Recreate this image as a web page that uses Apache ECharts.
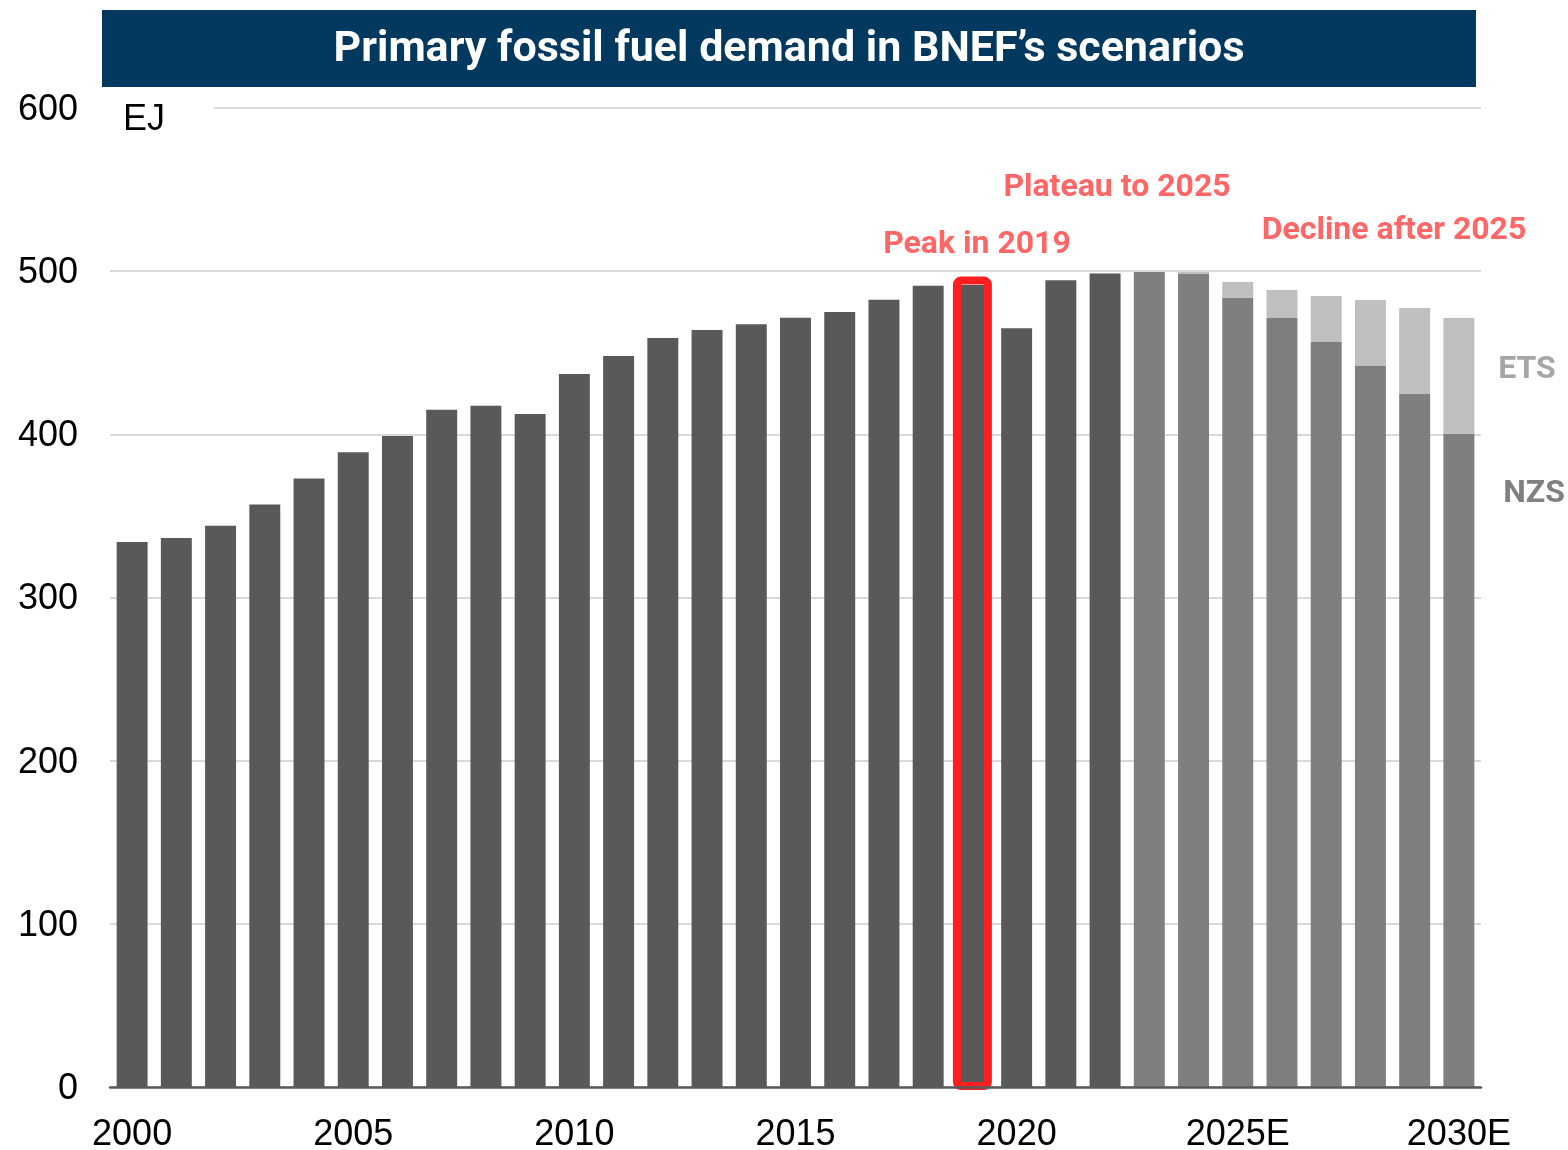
<!DOCTYPE html>
<html>
<head>
<meta charset="utf-8">
<script src="https://cdn.jsdelivr.net/npm/echarts@6/dist/echarts.min.js"></script>
<style>
html,body{margin:0;padding:0;background:#fff;}
#chart{width:1568px;height:1150px;}
</style>
</head>
<body>
<div id="chart"></div>
<script>
// ---- Data ----
const categories = ['2000','2001','2002','2003','2004','2005','2006','2007','2008','2009',
  '2010','2011','2012','2013','2014','2015','2016','2017','2018','2019',
  '2020','2021','2022','2023E','2024E','2025E','2026E','2027E','2028E','2029E','2030E'];
// Historical demand (EJ), 2000-2022
const historical = [334, 336.5, 344, 357, 373, 389, 399, 415, 417.5, 412.5,
  437, 448, 459, 464, 467.5, 471.5, 475, 482.5, 491, 491.5,
  465, 494.5, 498.5];
// Net Zero Scenario (EJ), 2023E-2030E
const nzs = [499.5, 498.3, 483.6, 471.3, 456.6, 441.9, 424.7, 400.3];
// Economic Transition Scenario (EJ), 2023E-2030E
const ets = [499.5, 499.5, 493.4, 488.5, 484.8, 482.3, 477.4, 471.3];
const yTicks = [0, 100, 200, 300, 400, 500, 600];
const peakYear = '2019';

// ---- Build series data ----
const nHist = historical.length;
const histData = categories.map((c, i) => i < nHist ? historical[i] : null);
const nzsData = categories.map((c, i) => i >= nHist ? nzs[i - nHist] : null);
const etsExtra = categories.map((c, i) => i >= nHist ? +(ets[i - nHist] - nzs[i - nHist]).toFixed(2) : null);
const peakIdx = categories.indexOf(peakYear);

const chart = echarts.init(document.getElementById('chart'), null, {renderer: 'canvas'});
const axisFont = '"Liberation Sans", Arial, sans-serif';
const boldFont = 'Roboto, "Noto Sans", sans-serif';

chart.setOption({
  animation: false,
  backgroundColor: '#fff',
  grid: {left: 110, right: 87, top: 108, bottom: 63, containLabel: false, outerBoundsMode: 'none'},
  xAxis: {
    type: 'category',
    data: categories,
    z: 5,
    axisLine: {show: true, lineStyle: {color: '#595959', width: 2.5}},
    axisTick: {show: false},
    axisLabel: {
      interval: 4, margin: 30, color: '#000',
      fontFamily: axisFont, fontSize: 36
    }
  },
  yAxis: {
    type: 'value',
    min: yTicks[0], max: yTicks[yTicks.length - 1], interval: 100,
    axisLine: {show: false},
    axisTick: {show: false},
    axisLabel: {margin: 32, color: '#000', fontFamily: axisFont, fontSize: 36,
      verticalAlign: 'top', lineHeight: 4},
    splitLine: {lineStyle: {color: '#D9D9D9', width: 2}}
  },
  series: [
    {name: 'Historical', type: 'bar', stack: 'total', data: histData, barWidth: '70%',
      itemStyle: {color: '#595959'}},
    {name: 'NZS', type: 'bar', stack: 'total', data: nzsData, barWidth: '70%',
      itemStyle: {color: '#7F7F7F'}},
    {name: 'ETS', type: 'bar', stack: 'total', data: etsExtra, barWidth: '70%',
      itemStyle: {color: '#BFBFBF'}},
    {
      name: 'Peak', type: 'custom', z: 4,
      data: [[peakIdx, historical[peakIdx]]],
      renderItem: function (params, api) {
        const base = api.coord([api.value(0), 0]);
        const top = api.coord([api.value(0), api.value(1)]);
        const bw = api.size([1, 0])[0] * 0.70;
        return {
          type: 'rect',
          shape: {x: top[0] - bw / 2, y: top[1] - 4.5, width: bw, height: base[1] - top[1] + 3.5, r: 4},
          style: {fill: null, stroke: '#FF1F1F', lineWidth: 8}
        };
      }
    }
  ],
  graphic: [
    {type: 'rect', z: 1, shape: {x: 104, y: 103, width: 110, height: 10}, style: {fill: '#fff'}},
    {type: 'rect', z: 10, shape: {x: 102, y: 10, width: 1374, height: 77}, style: {fill: '#03395F'}},
    {type: 'text', z: 11, x: 789, y: 50, style: {
      text: 'Primary fossil fuel demand in BNEF’s scenarios', fill: '#fff',
      font: 'bold 43px ' + boldFont, textAlign: 'center', textVerticalAlign: 'middle'}},
    {type: 'text', z: 11, x: 123, y: 120, style: {
      text: 'EJ', fill: '#000', font: '36px ' + axisFont, textAlign: 'left', textVerticalAlign: 'middle'}},
    {type: 'text', z: 11, x: 977, y: 245, style: {
      text: 'Peak in 2019', fill: '#FF6666', font: 'bold 32px ' + boldFont, textAlign: 'center', textVerticalAlign: 'middle'}},
    {type: 'text', z: 11, x: 1117, y: 188, style: {
      text: 'Plateau to 2025', fill: '#FF6666', font: 'bold 32px ' + boldFont, textAlign: 'center', textVerticalAlign: 'middle'}},
    {type: 'text', z: 11, x: 1394, y: 231, style: {
      text: 'Decline after 2025', fill: '#FF6666', font: 'bold 32px ' + boldFont, textAlign: 'center', textVerticalAlign: 'middle'}},
    {type: 'text', z: 11, x: 1527, y: 370, style: {
      text: 'ETS', fill: '#A6A6A6', font: 'bold 32px ' + boldFont, textAlign: 'center', textVerticalAlign: 'middle'}},
    {type: 'text', z: 11, x: 1534, y: 494, style: {
      text: 'NZS', fill: '#808080', font: 'bold 32px ' + boldFont, textAlign: 'center', textVerticalAlign: 'middle'}}
  ]
});
</script>
</body>
</html>
